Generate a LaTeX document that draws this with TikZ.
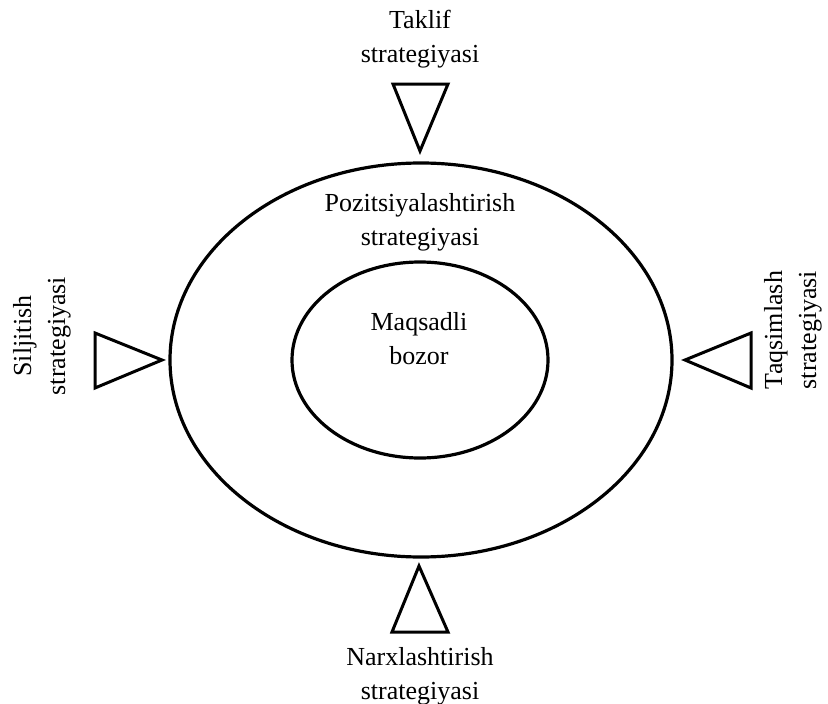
\documentclass[tikz,border=0pt]{standalone}
\usepackage{fontspec}
\setmainfont{Liberation Serif}
\begin{document}
\begin{tikzpicture}[x=1pt,y=-1pt,
  lbl/.style={align=center,inner sep=0pt,font=\fontsize{26}{34}\selectfont},
  ring/.style={draw,line width=3.2pt},
  tri/.style={draw,line width=3pt,line join=miter}]
\useasboundingbox (0,0) rectangle (828,704);
% ellipses
\draw[ring] (421,360) ellipse [x radius=251, y radius=197];
\draw[ring] (420,360) ellipse [x radius=128, y radius=98];
% texts
\node[lbl] (outer) at (420,222) {Pozitsiyalashtirish\\strategiyasi};
\node[lbl] (inner) at (419,339) {Maqsadli\\bozor};
\node[lbl] (top) at (420,39) {Taklif\\strategiyasi};
\node[lbl] (bot) at (420,676) {Narxlashtirish\\strategiyasi};
\node[lbl,rotate=90] (left) at (42,336) {Siljitish\\strategiyasi};
\node[lbl,rotate=90] (right) at (793,330) {Taqsimlash\\strategiyasi};
% triangles
\draw[tri] (393,84) -- (448,84) -- (420,151) -- cycle;
\draw[tri] (392,632) -- (448,632) -- (419,566) -- cycle;
\draw[tri] (95,333) -- (95,388) -- (162,360) -- cycle;
\draw[tri] (751,333) -- (751,388) -- (685,360) -- cycle;
\end{tikzpicture}
\end{document}
